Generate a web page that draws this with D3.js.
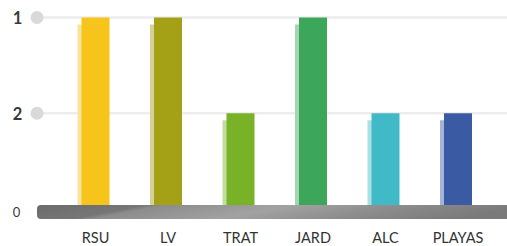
<!DOCTYPE html>
<html><head><meta charset="utf-8">
<script src="https://cdn.jsdelivr.net/npm/d3@7"></script>
<style>body{margin:0;background:#fff}svg{display:block}</style>
</head><body>
<svg id="c" width="507" height="246"></svg>
<script>
const categories = ["RSU","LV","TRAT","JARD","ALC","PLAYAS"];
const ranks = ["1","1","2","1","2","2"];
const colors = ["#f6c41b","#a5a117","#7ab227","#3ca65a","#41bac8","#3a5ba3"];
const shadowColors = ["#fae39a","#d3d198","#c2de9e","#a3d6b0","#a8e0e6","#a5b3d6"];
const tickLabels = ["0","2","1"];

const svg = d3.select("#c");
const x = d3.scalePoint().domain(categories).range([95.5, 458]);
const y = d3.scalePoint().domain(tickLabels).range([209, 17.5]);
const bw = 28;

// gridlines
svg.selectAll("line.grid").data(tickLabels.filter(t => t !== "0")).join("line")
  .attr("x1", 43).attr("x2", 507)
  .attr("y1", d => y(d)).attr("y2", d => y(d))
  .attr("stroke", "#ededed").attr("stroke-width", 2.5);
svg.selectAll("circle.tick").data(tickLabels.filter(t => t !== "0")).join("circle")
  .attr("cx", 37).attr("cy", d => y(d)).attr("r", 6.5).attr("fill", "#d9d9d9");
svg.selectAll("text.tick").data(tickLabels).join("text")
  .attr("x", d => d === "0" ? 16.5 : 17.5)
  .attr("y", d => d === "0" ? y(d) + 3 : y(d) + 1)
  .attr("dy", "0.35em").attr("text-anchor", "middle")
  .attr("font-family", "Lato, 'Open Sans', sans-serif")
  .attr("font-size", d => d === "0" ? 13 : 16.5)
  .attr("font-weight", d => d === "0" ? 400 : 700)
  .attr("fill", "#3a3a3a").text(d => d);

// bars
const g = svg.append("g");
g.selectAll("rect.sh").data(categories).join("rect")
  .attr("x", d => x(d) - bw / 2 - 4).attr("width", bw)
  .attr("y", (d, i) => y(ranks[i]) + 7)
  .attr("height", (d, i) => y("0") - y(ranks[i]) - 7)
  .attr("fill", (d, i) => shadowColors[i]);
g.selectAll("rect.bar").data(categories).join("rect")
  .attr("x", d => x(d) - bw / 2).attr("width", bw)
  .attr("y", (d, i) => y(ranks[i]))
  .attr("height", (d, i) => y("0") - y(ranks[i]))
  .attr("fill", (d, i) => colors[i]);

// baseline bar
const defs = svg.append("defs");
const gr = defs.append("linearGradient").attr("id", "gb").attr("x1", "0").attr("x2", "1").attr("y1", "0").attr("y2", "0.15");
[["0%","#6b6b6b"],["22%","#767676"],["26%","#8c8c8c"],["52%","#a2a2a2"],["75%","#8c8c8c"],["100%","#7a7a7a"]]
  .forEach(s => gr.append("stop").attr("offset", s[0]).attr("stop-color", s[1]));
svg.append("rect").attr("x", 37).attr("y", y("0") - 4).attr("width", 480).attr("height", 14)
  .attr("rx", 4).attr("fill", "url(#gb)");

// category labels
svg.selectAll("text.cat").data(categories).join("text")
  .attr("x", d => x(d)).attr("y", 243).attr("text-anchor", "middle")
  .attr("font-family", "Lato, 'Open Sans', sans-serif").attr("font-size", 14.5)
  .attr("fill", "#333").text(d => d);
</script>
</body></html>
